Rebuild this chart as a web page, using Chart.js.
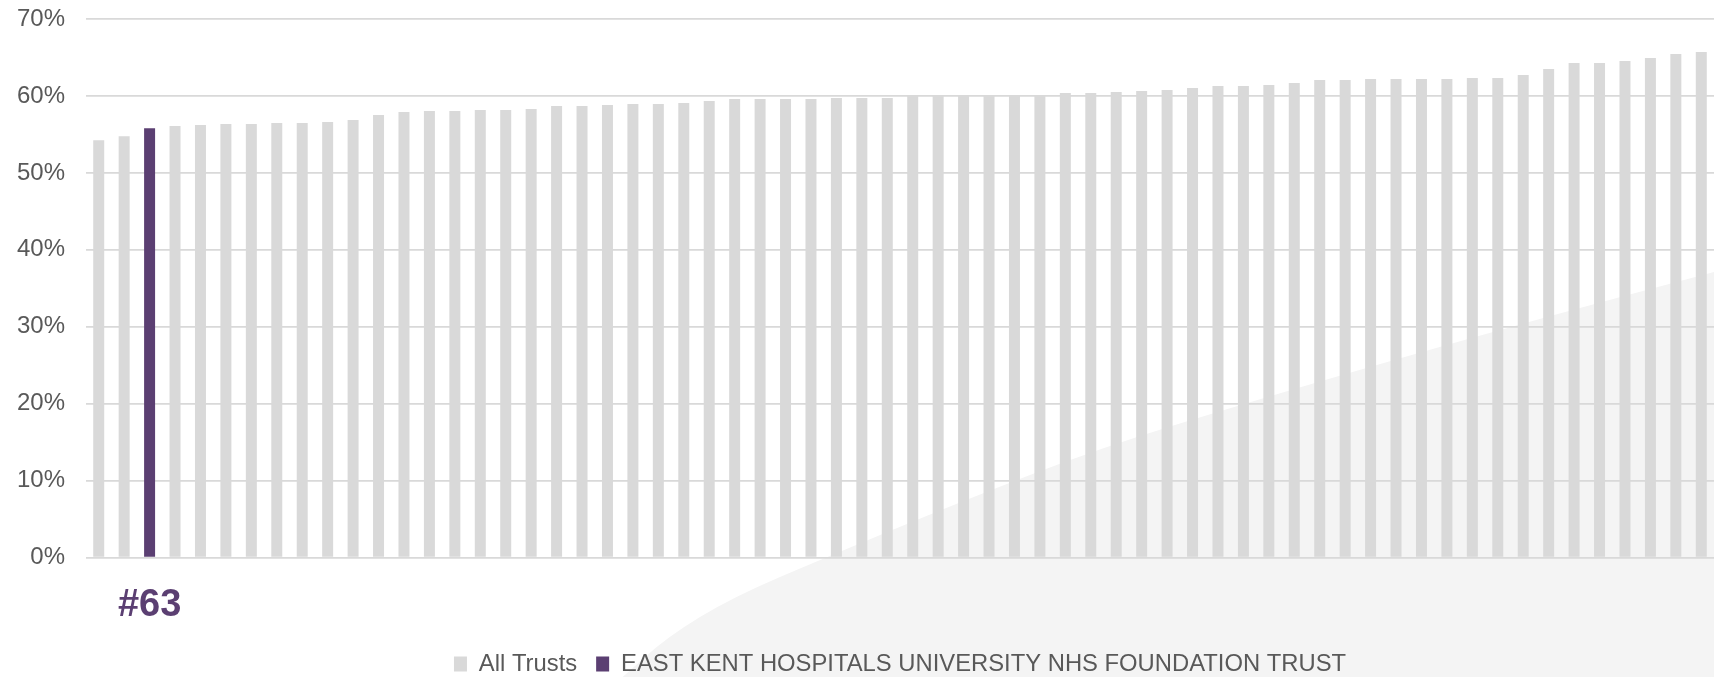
<!DOCTYPE html>
<html>
<head>
<meta charset="utf-8">
<title>All Trusts ranking</title>
<script src="https://cdn.jsdelivr.net/npm/chart.js@4.4.1/dist/chart.umd.min.js"></script>
<style>
  html, body { margin: 0; padding: 0; background: #ffffff; overflow: hidden; }
  #wrap { width: 1714px; height: 686px; }
</style>
</head>
<body>
<div id="wrap"><canvas id="chart-rank" width="1714" height="686"></canvas></div>
<script>
// values (percent), sorted low to high
const allTrusts = [
  54.25, 54.78, 55.82, 56.08, 56.21, 56.34, 56.34, 56.47, 56.47, 56.6,
  56.86, 57.51, 57.9, 58.03, 58.03, 58.16, 58.16, 58.29, 58.68, 58.68,
  58.81, 58.94, 58.94, 59.07, 59.33, 59.59, 59.59, 59.59, 59.59, 59.72,
  59.72, 59.72, 60.0, 60.0, 60.0, 60.0, 60.0, 60.0, 60.37, 60.37,
  60.5, 60.63, 60.76, 61.02, 61.28, 61.28, 61.41, 61.67, 62.06, 62.06,
  62.19, 62.19, 62.19, 62.19, 62.32, 62.32, 62.71, 63.49, 64.27, 64.27,
  64.53, 64.92, 65.44, 65.7
];
const highlightIndex = 2;
const highlightRank = 63;
const highlightName = 'EAST KENT HOSPITALS UNIVERSITY NHS FOUNDATION TRUST';
const yTicks = [0, 10, 20, 30, 40, 50, 60, 70];

const GREY = '#d9d9d9';
const PURPLE = '#5b3f72';
const TEXT = '#595959';

const trustLabels = allTrusts.map((_, i) => 'Trust ' + (i + 1));
const otherVals = allTrusts.map((v, i) => (i === highlightIndex ? null : v));
const ownVals = allTrusts.map((v, i) => (i === highlightIndex ? v : null));

// light grey swoosh in the background (decoration only)
const swoosh = {
  id: 'swoosh',
  beforeDraw(chart) {
    const ctx = chart.ctx;
    const pts = [[612, 686], [623, 677], [667, 637], [733, 597], [827, 557], [960, 502],
      [1100, 448], [1250, 402], [1390, 361], [1553, 315], [1714, 272]];
    ctx.save();
    ctx.beginPath();
    ctx.moveTo(pts[0][0], pts[0][1]);
    for (let i = 1; i < pts.length - 1; i++) {
      const mx = (pts[i][0] + pts[i + 1][0]) / 2;
      const my = (pts[i][1] + pts[i + 1][1]) / 2;
      ctx.quadraticCurveTo(pts[i][0], pts[i][1], mx, my);
    }
    ctx.lineTo(pts[pts.length - 1][0], pts[pts.length - 1][1]);
    ctx.lineTo(1714, 686);
    ctx.closePath();
    ctx.fillStyle = '#f4f4f4';
    ctx.fill();
    ctx.restore();
  }
};

// "#63" under the highlighted bar
const rankLabel = {
  id: 'rankLabel',
  afterDatasetsDraw(chart) {
    const { ctx, scales: { x }, chartArea } = chart;
    ctx.save();
    ctx.font = 'bold 38px "Liberation Sans", Arial, sans-serif';
    ctx.fillStyle = PURPLE;
    ctx.textAlign = 'center';
    ctx.textBaseline = 'middle';
    ctx.fillText('#' + highlightRank, x.getPixelForValue(highlightIndex), chartArea.bottom + 48);
    ctx.restore();
  }
};

new Chart(document.getElementById('chart-rank'), {
  type: 'bar',
  data: {
    labels: trustLabels,
    datasets: [
      { label: 'All Trusts', data: otherVals, backgroundColor: GREY },
      { label: highlightName, data: ownVals, backgroundColor: PURPLE }
    ]
  },
  options: {
    responsive: false,
    animation: false,
    devicePixelRatio: 1,
    layout: { padding: { top: 19, left: 0, right: 0, bottom: 0 } },
    datasets: { bar: { barPercentage: 0.432, categoryPercentage: 1 } },
    plugins: {
      legend: {
        position: 'bottom',
        fullSize: false,
        labels: {
          color: TEXT,
          font: { family: '"Liberation Sans", Arial, sans-serif', size: 23.8 },
          boxWidth: 13,
          boxHeight: 15,
          padding: 19
        }
      },
      title: { display: false },
      tooltip: { enabled: false }
    },
    scales: {
      x: {
        stacked: true,
        grid: { display: false },
        border: { display: false },
        ticks: { display: false },
        afterFit(scale) { scale.height = 75.5; }
      },
      y: {
        min: 0,
        max: 70,
        afterFit(scale) {
          scale.width = 86;
          scale.paddingTop = 0;
          scale.paddingBottom = 0;
        },
        afterBuildTicks(scale) { scale.ticks = yTicks.map(v => ({ value: v })); },
        grid: { color: GREY, lineWidth: 1.8, drawTicks: false },
        border: { display: false },
        ticks: {
          color: TEXT,
          padding: 21,
          font: { family: '"Liberation Sans", Arial, sans-serif', size: 24 },
          callback: v => v + '%'
        }
      }
    }
  },
  plugins: [swoosh, rankLabel]
});
</script>
</body>
</html>
